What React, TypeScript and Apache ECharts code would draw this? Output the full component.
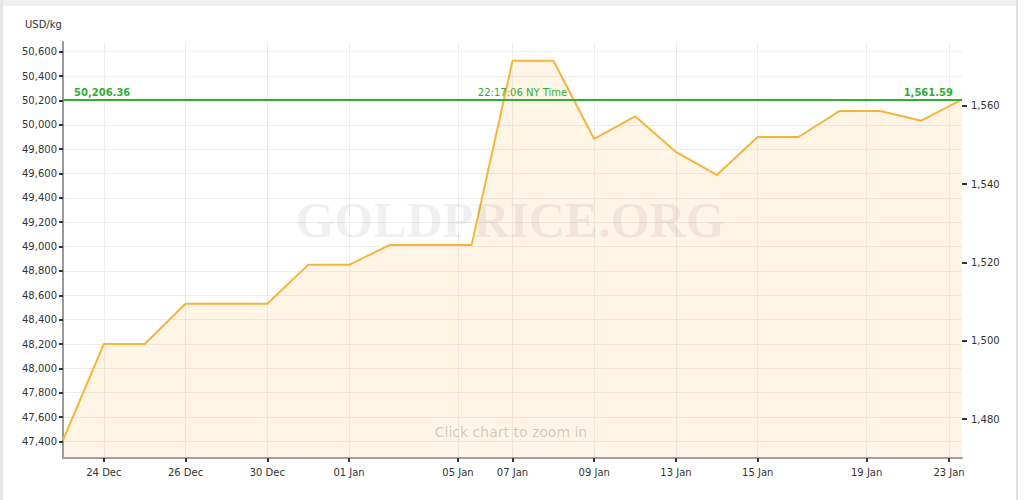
import React, { useEffect, useRef } from "react";
import * as echarts from "echarts";

// Trading-day points (ordinal axis: weekends/gaps skipped)
const pointDates = [
  "2019-12-23", "2019-12-24", "2019-12-25", "2019-12-26", "2019-12-27",
  "2019-12-30", "2019-12-31", "2020-01-01", "2020-01-02", "2020-01-03",
  "2020-01-06", "2020-01-07", "2020-01-08", "2020-01-09", "2020-01-10",
  "2020-01-13", "2020-01-14", "2020-01-15", "2020-01-16", "2020-01-17",
  "2020-01-20", "2020-01-21", "2020-01-23T22:17:06",
];
const usdPerKg = [
  47410, 48200, 48200, 48530, 48530,
  48530, 48850, 48850, 49014, 49014,
  49014, 50526, 50526, 49884, 50070,
  49777, 49588, 49900, 49900, 50113,
  50113, 50034, 50206.36,
];
const tickDates = [
  "2019-12-24", "2019-12-26", "2019-12-30", "2020-01-01", "2020-01-05", "2020-01-07",
  "2020-01-09", "2020-01-13", "2020-01-15", "2020-01-19", "2020-01-23",
];
const tickLabels = [
  "24 Dec", "26 Dec", "30 Dec", "01 Jan", "05 Jan", "07 Jan",
  "09 Jan", "13 Jan", "15 Jan", "19 Jan", "23 Jan",
];
const leftTicks = [
  47400, 47600, 47800, 48000, 48200, 48400, 48600, 48800, 49000,
  49200, 49400, 49600, 49800, 50000, 50200, 50400, 50600,
];
const rightTicks = [1480, 1500, 1520, 1540, 1560];
const currentKg = 50206.36;
const currentOz = 1561.59;
const timeText = "22:17:06 NY Time";
const yMin = 47264;
const yMax = 50680;
const KG_PER_OZ = 32.1507466;

const toMs = (s: string) => Date.parse(s.length > 10 ? s + "Z" : s + "T00:00:00Z");

export default function App() {
  const ref = useRef<HTMLDivElement>(null);
  useEffect(() => {
    if (!ref.current) return;
    const chart = echarts.init(ref.current, undefined, { renderer: "svg" });
    const times = pointDates.map(toMs);
    const ordinalPos = (t: number) => {
      for (let i = 0; i < times.length - 1; i++) {
        if (t >= times[i] && t <= times[i + 1]) {
          return i + (t - times[i]) / (times[i + 1] - times[i]);
        }
      }
      return times.length - 1;
    };
    const tickPos = tickDates.map((d) => ordinalPos(toMs(d)));
    const labelFor = (v: number) => {
      for (let i = 0; i < tickPos.length; i++) {
        if (Math.abs(tickPos[i] - v) < 1e-6) return tickLabels[i];
      }
      return "";
    };
    const data = usdPerKg.map((v, i) => [i, v]);
    const font = "DejaVu Sans";
    const green = "#2fae2f";

    chart.setOption({
      animation: false,
      backgroundColor: "#ffffff",
      textStyle: { fontFamily: font },
      grid: { left: 63, right: 62, top: 42, bottom: 42, containLabel: false },
      xAxis: {
        type: "value",
        min: 0,
        max: pointDates.length - 1,
        axisLine: { show: true, lineStyle: { color: "#9a9a9a", width: 2 } },
        axisTick: {
          show: true,
          customValues: tickPos,
          length: 4,
          lineStyle: { color: "#333", width: 2 },
        },
        axisLabel: {
          customValues: tickPos,
          formatter: (v: number) => labelFor(v),
          color: "#333",
          fontSize: 10,
          fontFamily: font,
          margin: 9,
        },
        splitLine: { show: true, lineStyle: { color: "#ececec", width: 1 } },
      },
      yAxis: [
        {
          type: "value",
          min: yMin,
          max: yMax,
          axisLine: { show: true, lineStyle: { color: "#9a9a9a", width: 2 } },
          axisTick: {
            show: true,
            customValues: leftTicks,
            length: 4,
            lineStyle: { color: "#333", width: 2 },
          },
          axisLabel: {
            customValues: leftTicks,
            formatter: (v: number) => v.toLocaleString("en-US"),
            color: "#333",
            fontSize: 10,
            fontFamily: font,
            margin: 6,
          },
          splitLine: { show: true, lineStyle: { color: "#ececec", width: 1 } },
        },
        {
          type: "value",
          position: "right",
          min: yMin / KG_PER_OZ,
          max: yMax / KG_PER_OZ,
          axisLine: { show: false },
          axisTick: {
            show: true,
            customValues: rightTicks,
            length: 5,
            lineStyle: { color: "#333", width: 2 },
          },
          axisLabel: {
            customValues: rightTicks,
            formatter: (v: number) => v.toLocaleString("en-US"),
            color: "#333",
            fontSize: 10,
            fontFamily: font,
            margin: 9,
          },
          splitLine: { show: false },
        },
      ],
      series: [
        {
          type: "line",
          data,
          showSymbol: false,
          symbol: "none",
          lineStyle: { color: "#f5b53a", width: 2 },
          areaStyle: { color: "rgba(250, 200, 120, 0.25)", origin: "start" },
          z: 2,
          markLine: {
            silent: true,
            symbol: ["none", "none"],
            lineStyle: { color: green, width: 1.5, type: "solid" },
            data: [
              {
                yAxis: currentKg,
                label: {
                  show: true,
                  position: "insideStartTop",
                  formatter: currentKg.toLocaleString("en-US", { minimumFractionDigits: 2 }),
                  color: green,
                  fontWeight: "bold",
                  fontSize: 10,
                  fontFamily: font,
                  distance: [11, 2],
                },
              },
              {
                yAxis: currentKg,
                label: {
                  show: true,
                  position: "insideMiddleTop",
                  formatter: timeText,
                  color: green,
                  fontSize: 10,
                  fontFamily: font,
                  padding: [0, 0, 0, 20],
                  distance: 2,
                },
              },
              {
                yAxis: currentKg,
                label: {
                  show: true,
                  position: "insideEndTop",
                  formatter: currentOz.toLocaleString("en-US", { minimumFractionDigits: 2 }),
                  color: green,
                  fontWeight: "bold",
                  fontSize: 10,
                  fontFamily: font,
                  distance: [9, 2],
                },
              },
            ],
          },
        },
      ],
      graphic: [
        { type: "rect", left: 0, top: 0, shape: { width: 1018, height: 6 }, style: { fill: "#efefef" }, z: 10 },
        { type: "rect", left: 0, top: 0, shape: { width: 3, height: 500 }, style: { fill: "#e4e4e4" }, z: 10 },
        { type: "rect", left: 1016, top: 0, shape: { width: 2, height: 500 }, style: { fill: "#e0e0e0" }, z: 10 },
        {
          type: "text",
          left: 25,
          top: 19,
          style: { text: "USD/kg", fill: "#333", font: `10px '${font}'` },
          z: 10,
        },
        {
          type: "text",
          x: 510,
          y: 220,
          style: {
            text: "GOLDPRICE.ORG",
            fill: "rgba(0,0,0,0.06)",
            font: "bold 50px 'Liberation Serif'",
            textAlign: "center",
            textVerticalAlign: "middle",
          },
          z: 10,
        },
        {
          type: "text",
          x: 511,
          y: 432,
          style: {
            text: "Click chart to zoom in",
            fill: "rgba(0,0,0,0.2)",
            font: `14px '${font}'`,
            textAlign: "center",
            textVerticalAlign: "middle",
          },
          z: 10,
        },
      ],
    });
    return () => chart.dispose();
  }, []);
  return (
    <div
      ref={ref}
      style={{ position: "absolute", left: 0, top: 0, width: 1024, height: 500 }}
    />
  );
}
